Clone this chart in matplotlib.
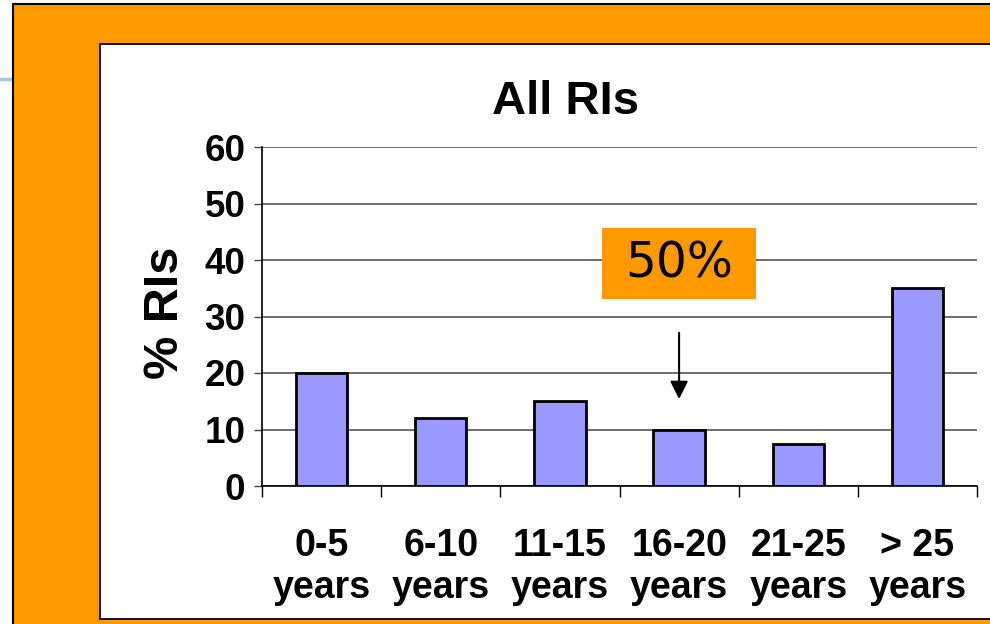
import numpy as np
import matplotlib.pyplot as plt
from matplotlib.patches import Rectangle

# DATA
categories = ["0-5\nyears", "6-10\nyears", "11-15\nyears", "16-20\nyears", "21-25\nyears", "> 25\nyears"]
pct_ris = [20, 12, 15, 10, 7.5, 35]
y_ticks = [0, 10, 20, 30, 40, 50, 60]
note_text = "50%"
note_target = 3  # bar the arrow points at

W, H = 990, 624
fig = plt.figure(figsize=(W / 100, H / 100), dpi=100)
fig.patch.set_facecolor("white")

# slide decoration: thin blue rule, orange frame, white panel (kept under the axes)
fig.add_artist(plt.Line2D([0, 13 / W], [1 - 79 / H, 1 - 79 / H], color="#9CCBEE", lw=2.5,
                          zorder=-3))
fig.add_artist(Rectangle((13 / W, -0.05), 1.2, (H - 4) / H + 0.05, facecolor="#FF9900",
                         edgecolor="black", lw=1.5, transform=fig.transFigure, zorder=-2))
fig.add_artist(Rectangle((100 / W, 1 - 619 / H), 1.2, (619 - 44) / H, facecolor="white",
                         edgecolor="black", lw=1.3, transform=fig.transFigure, zorder=-1))

ax = fig.add_axes([262 / W, 1 - 486 / H, (977 - 262) / W, (486 - 147) / H])
ax.set_facecolor("none")

x = np.arange(len(categories))
ax.bar(x, pct_ris, width=0.43, color="#9999FF", edgecolor="black", lw=2, zorder=3)

ax.set_xlim(-0.5, len(categories) - 0.5)
ax.set_ylim(0, 60)
ax.set_yticks(y_ticks)
ax.set_yticklabels([str(v) for v in y_ticks], fontsize=26.5, fontweight="bold",
                   family="Liberation Sans")
ax.set_xticks(x)
ax.set_xticklabels(categories, fontsize=27, fontweight="bold", family="Liberation Sans",
                   linespacing=1.22)
ax.set_xticks(np.arange(-0.5, len(categories)), minor=True)
ax.tick_params(axis="x", which="major", length=0, pad=30)
ax.tick_params(axis="x", which="minor", length=8, width=1, direction="out", color="black")
ax.tick_params(axis="y", length=6, width=1, direction="out", pad=6, color="#444444")

ax.yaxis.grid(True, color="#555555", lw=1.2, zorder=0)
ax.set_axisbelow(True)
for s in ["top", "right"]:
    ax.spines[s].set_visible(False)
ax.spines["left"].set_color("black")
ax.spines["bottom"].set_color("black")
ax.spines["left"].set_linewidth(1.2)
ax.spines["bottom"].set_linewidth(1.2)

# title and y label
fig.text(566 / W, 1 - 102 / H, "All RIs", fontsize=34, fontweight="bold",
         family="Liberation Sans", ha="center", va="center")
fig.text(166 / W, 1 - 313 / H, "% RIs", fontsize=35, fontweight="bold",
         family="Liberation Sans", ha="center", va="center", rotation=90)

# orange call-out box with arrow
ax.add_patch(Rectangle((2.352, 33.1), 1.292, 12.6, facecolor="#FF9900",
                       edgecolor="none", zorder=4, clip_on=False))
ax.text(note_target, 39.4, note_text, fontsize=35, family="DejaVu Sans",
        ha="center", va="center", zorder=5)
ax.annotate("", xy=(note_target, 14.9), xytext=(note_target, 27.6),
            arrowprops=dict(arrowstyle="-|>", color="black", lw=1.5,
                            mutation_scale=27), zorder=5)

fig.savefig("out.png", dpi=100)
